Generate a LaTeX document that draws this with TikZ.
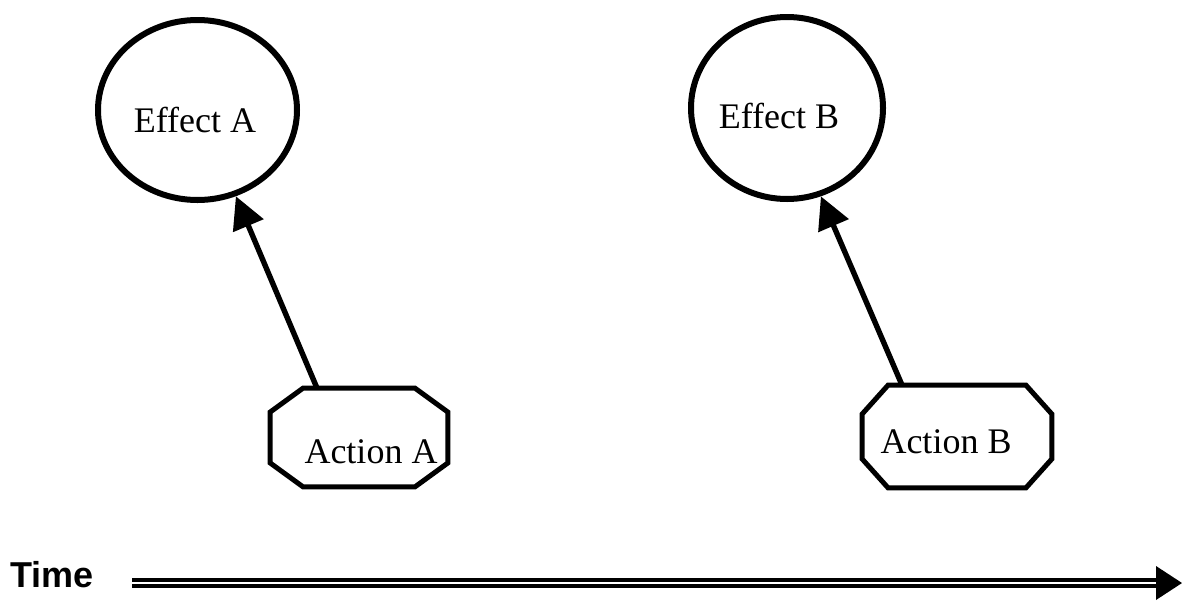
\documentclass[tikz,border=0pt]{standalone}
\usepackage{fontspec}
\setmainfont{Liberation Serif}
\newfontfamily\timefont{Liberation Sans}
\usetikzlibrary{arrows.meta,calc,shapes.geometric}
\tikzset{
  effect/.style={ellipse, draw, line width=3pt, inner sep=0pt},
  boxframe/.style={rectangle, inner sep=0pt},
  octline/.style={line width=2.5pt, line join=miter},
  lbl/.style={inner sep=0pt, font=\fontsize{18pt}{20pt}\selectfont},
  conn/.style={line width=2.7pt, -{Triangle[length=16pt,width=16pt]}},
  timeline/.style={double, line width=2pt, double distance=1pt}
}
\newcommand{\octbox}[3]{%
  \draw[octline] ($(#1.north west)+(#2,0)$) -- ($(#1.north east)+(-#2,0)$)
    -- ($(#1.north east)+(0,#3)$) -- ($(#1.south east)+(0,-#3)$)
    -- ($(#1.south east)+(-#2,0)$) -- ($(#1.south west)+(#2,0)$)
    -- ($(#1.south west)+(0,-#3)$) -- ($(#1.north west)+(0,#3)$) -- cycle;}
\begin{document}
\begin{tikzpicture}[x=0.5pt,y=-0.5pt]
\useasboundingbox (0,0) rectangle (1182,600);
% effects
\node[effect, minimum width=99.5pt, minimum height=90pt] (effA) at (197.5,110) {};
\node[lbl] (effAt) at (195,120) {Effect A};
\node[effect, minimum width=96pt, minimum height=91pt] (effB) at (787,108) {};
\node[lbl] (effBt) at (779,116) {Effect B};
% actions
\node[boxframe, minimum width=88.5pt, minimum height=49pt] (actA) at (359,437.5) {};
\octbox{actA}{33}{24}
\node[lbl] (actAt) at (371,452) {Action A};
\node[boxframe, minimum width=94.5pt, minimum height=51pt] (actB) at (957,436.5) {};
\octbox{actB}{26}{29}
\node[lbl] (actBt) at (946,442) {Action B};
% connectors
\draw[conn] ([xshift=-21pt]actA.north) -- (effA.-66);
\draw[conn] ([xshift=-27.5pt]actB.north) -- (effB.-69);
% time axis
\node[inner sep=0pt, font=\timefont\bfseries\fontsize{18pt}{20pt}\selectfont] (time) at (52,575) {Time};
\coordinate (t0) at (132,583);
\coordinate (t1) at (1160,583);
\coordinate (tip) at (1182,583);
\draw[timeline] (t0) -- (t1);
\fill ($(tip)+(-26,-17)$) -- (tip) -- ($(tip)+(-26,17)$) -- cycle;
\end{tikzpicture}
\end{document}
